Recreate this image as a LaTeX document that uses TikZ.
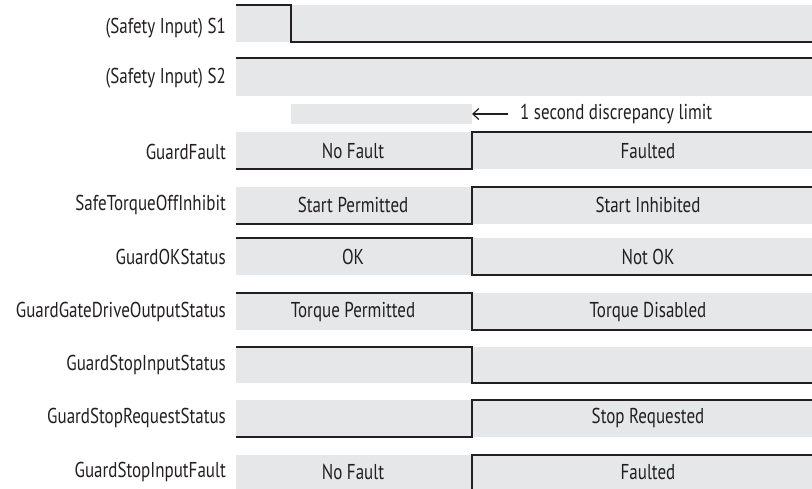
\documentclass[tikz,border=0pt]{standalone}
\usepackage{fontspec}
\setmainfont{PT Sans}[FakeStretch=0.79]
\usetikzlibrary{arrows.meta}
\definecolor{bandgray}{HTML}{E6E7E8}
\definecolor{sigline}{HTML}{231F20}
\begin{document}
\begin{tikzpicture}[x=1pt,y=-1pt,
  txt/.style={font=\fontsize{21.5}{25}\selectfont, text=sigline, inner sep=0pt},
  lbl/.style={txt, anchor=east},
  state/.style={txt, anchor=center},
  band/.style={fill=bandgray},
  sig/.style={draw=sigline, line width=2pt, line join=miter},
  marker/.style={draw=sigline, line width=1.2pt, -{Straight Barb[length=6pt,width=11pt]}}]
\useasboundingbox (0,0) rectangle (812,488);

% gray bands
\fill[band] (236,5) rectangle (812,42);
\fill[band] (236,58) rectangle (812,96);
\fill[band] (291,104) rectangle (472,124);
\fill[band] (236,132) rectangle (812,169);
\fill[band] (236,187) rectangle (812,224);
\fill[band] (236,238) rectangle (812,275);
\fill[band] (236,293) rectangle (812,330);
\fill[band] (236,347) rectangle (812,383);
\fill[band] (236,400) rectangle (812,437);
\fill[band] (236,455) rectangle (812,492);

% signal traces
\draw[sig] (236,5) -- (291,5) -- (291,42) -- (812,42);
\draw[sig] (236,58) -- (812,58);
\draw[sig] (236,169) -- (472,169) -- (472,132) -- (812,132);
\draw[sig] (236,224) -- (472,224) -- (472,187) -- (812,187);
\draw[sig] (236,238) -- (472,238) -- (472,275) -- (812,275);
\draw[sig] (236,293) -- (472,293) -- (472,330) -- (812,330);
\draw[sig] (236,347) -- (472,347) -- (472,383) -- (812,383);
\draw[sig] (236,437) -- (472,437) -- (472,400) -- (812,400);
\draw[sig] (236,492) -- (472,492) -- (472,455) -- (812,455);

% labels
\node[lbl] (l1) at (226,28) {(Safety Input) S1};
\node[lbl] (l2) at (226,78) {(Safety Input) S2};
\node[lbl] (l3) at (226,152) {GuardFault};
\node[lbl] (l4) at (226,205) {SafeTorqueOffInhibit};
\node[lbl] (l5) at (226,257) {GuardOKStatus};
\node[lbl] (l6) at (226,312) {GuardGateDriveOutputStatus};
\node[lbl] (l7) at (226,365) {GuardStopInputStatus};
\node[lbl] (l8) at (226,418) {GuardStopRequestStatus};
\node[lbl] (l9) at (226,472) {GuardStopInputFault};

% state texts
\node[state] (s3a) at (353,151) {No Fault};
\node[state] (s3b) at (648,151) {Faulted};
\node[state] (s4a) at (353,205) {Start Permitted};
\node[state] (s4b) at (648,205) {Start Inhibited};
\node[state] (s5a) at (353,257) {OK};
\node[state] (s5b) at (648,257) {Not OK};
\node[state] (s6a) at (353,312) {Torque Permitted};
\node[state] (s6b) at (648,312) {Torque Disabled};
\node[state] (s8b) at (648,418) {Stop Requested};
\node[state] (s9a) at (353,472) {No Fault};
\node[state] (s9b) at (648,472) {Faulted};

% discrepancy limit marker
\node[txt, anchor=west] (dl) at (520,114) {1 second discrepancy limit};
\coordinate (arrS) at (508,114);
\coordinate (arrE) at (472,114);
\draw[marker] (arrS) -- (arrE);
\end{tikzpicture}
\end{document}
